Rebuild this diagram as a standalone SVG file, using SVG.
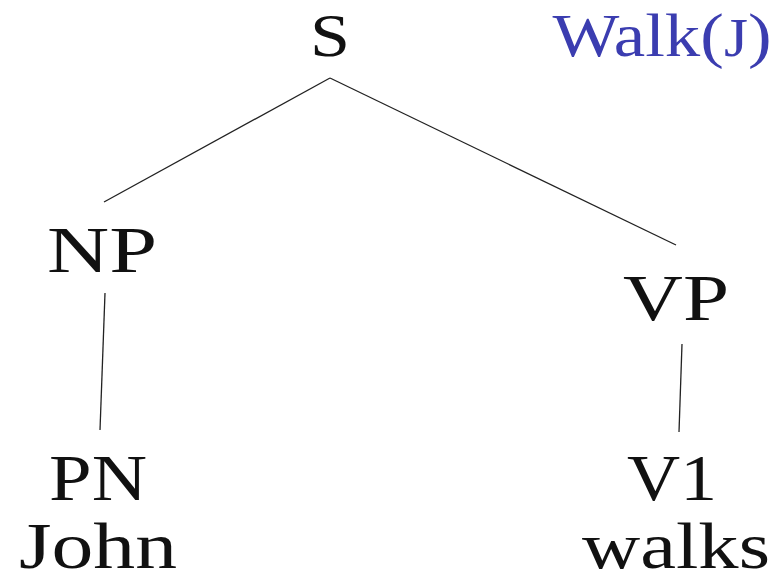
<svg xmlns="http://www.w3.org/2000/svg" width="782" height="584" viewBox="0 0 782 584">
<style>
.lbl{font-family:"Liberation Serif","Times New Roman",serif;font-size:66px;fill:#111;text-anchor:middle}
.top{font-size:62px}
.sem{fill:#3b3db0}
.edge{stroke:#222;stroke-width:1.3;fill:none}
</style>
<rect width="782" height="584" fill="#fff"/>
<g id="connectors">
<line class="edge" x1="330" y1="78" x2="104" y2="202"/>
<line class="edge" x1="330" y1="78" x2="676" y2="245"/>
<line class="edge" x1="105" y1="293" x2="100" y2="430"/>
<line class="edge" x1="682" y1="344" x2="679" y2="432"/>
</g>
<g id="node-S"><text class="lbl top" x="330" y="56" textLength="40" lengthAdjust="spacingAndGlyphs">S</text></g>
<g id="node-walk"><text class="lbl top sem" x="662" y="56" textLength="219" lengthAdjust="spacingAndGlyphs">Walk(<tspan font-size="54">J</tspan>)</text></g>
<g id="node-NP"><text class="lbl" x="102" y="272" textLength="110" lengthAdjust="spacingAndGlyphs">NP</text></g>
<g id="node-VP"><text class="lbl" x="676" y="320" textLength="106" lengthAdjust="spacingAndGlyphs">VP</text></g>
<g id="node-PN"><text class="lbl" x="98" y="500" textLength="98" lengthAdjust="spacingAndGlyphs">PN</text></g>
<g id="node-V1"><text class="lbl" x="672" y="500" textLength="90" lengthAdjust="spacingAndGlyphs">V1</text></g>
<g id="node-John"><text class="lbl" x="98" y="568" textLength="158" lengthAdjust="spacingAndGlyphs">John</text></g>
<g id="node-walks"><text class="lbl" x="676" y="568" textLength="188" lengthAdjust="spacingAndGlyphs">walks</text></g>
</svg>
